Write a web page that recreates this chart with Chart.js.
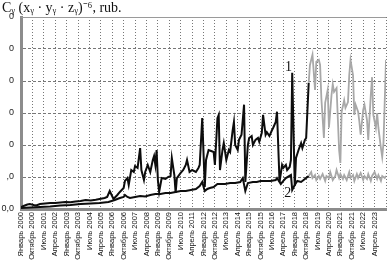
<!DOCTYPE html>
<html>
<head>
<meta charset="utf-8">
<script src="https://cdn.jsdelivr.net/npm/chart.js@4"></script>
<style>
  html, body { margin: 0; padding: 0; background: #fff; overflow: hidden; }
  #wrap { position: relative; width: 388px; height: 262px; }
</style>
</head>
<body>
<div id="wrap"><canvas id="chart" width="388" height="262"></canvas></div>
<script>
// x axis = months since January 2000, y axis in the plot's own units
const xTickLabels = ['Январь 2000', 'Октябрь 2000', 'Июль 2001', 'Апрель 2002', 'Январь 2003', 'Октябрь 2003',
  'Июль 2004', 'Апрель 2005', 'Январь 2006', 'Октябрь 2006', 'Июль 2007', 'Апрель 2008', 'Январь 2009',
  'Октябрь 2009', 'Июль 2010', 'Апрель 2011', 'Январь 2012', 'Октябрь 2012', 'Июль 2013', 'Апрель 2014',
  'Январь 2015', 'Октябрь 2015', 'Июль 2016', 'Апрель 2017', 'Январь 2018', 'Октябрь 2018', 'Июль 2019',
  'Апрель 2020', 'Январь 2021', 'Октябрь 2021', 'Июль 2022', 'Апрель 2023'];
const yTickLabels = ['0,0', ',0', '0', '0', '0', '0', '0'];
const titleText = 'Cᵧ (xᵧ · yᵧ · zᵧ)⁻⁶, rub.';

// series 1, actual
const s1Months = [0, 2, 5, 7, 10, 12, 15, 19, 23, 27, 31, 35, 39, 43, 47, 51, 55, 59, 62, 66,
  68, 70, 73, 76, 78, 81, 82, 84, 85, 87, 89, 90, 92, 94, 95, 97, 98, 100, 102, 104,
  105, 106, 107, 108, 109, 111, 114, 116, 118, 119, 121, 122, 123, 126, 128, 130, 131, 133, 135, 138,
  140, 141, 143, 145, 146, 148, 150, 152, 153, 155, 156, 157, 159, 160, 162, 164, 165, 167, 168, 169,
  171, 172, 174, 176, 177, 179, 180, 182, 183, 185, 187, 188, 190, 191, 193, 194, 196, 198, 199, 201,
  202, 204, 206, 207, 209, 210, 212, 213, 214, 216, 217, 219, 221, 222, 224, 225, 227];
const s1Values = [0.31, 0.47, 0.70, 0.78, 0.63, 0.55, 0.78, 0.86, 0.94, 0.94, 1.02, 1.09, 1.05, 1.17, 1.25, 1.41, 1.33, 1.45, 1.56, 1.72,
  1.88, 2.81, 1.56, 2.19, 2.66, 3.28, 4.38, 4.84, 3.75, 6.09, 5.78, 6.72, 6.41, 9.53, 6.09, 4.53, 5.78, 6.88, 5.78, 7.66,
  8.28, 6.88, 9.22, 4.53, 2.66, 4.84, 4.69, 5.0, 5.16, 7.97, 5.31, 2.5, 4.84, 5.63, 6.09, 6.88, 7.66, 5.78, 6.09, 5.78,
  6.41, 6.88, 14.2, 3.44, 7.66, 9.22, 9.06, 8.91, 6.88, 14.2, 14.7, 6.09, 9.22, 10.3, 7.66, 9.22, 8.91, 12.3, 13.6, 10.0,
  9.22, 10.8, 11.6, 16.3, 4.22, 10.0, 11.1, 11.4, 10.0, 10.8, 11.1, 10.5, 11.9, 14.7, 11.6, 12.0, 11.4, 12.3, 12.7, 13.6,
  15.2, 4.22, 6.88, 6.41, 6.88, 6.09, 6.56, 7.66, 21.3, 3.59, 7.97, 9.22, 10.3, 9.53, 10.8, 11.1, 19.7];

// series 2, actual
const s2Months = [0, 7, 15, 23, 31, 39, 47, 55, 62, 69, 74, 78, 81, 82, 84, 86, 90, 94, 98, 102,
  106, 110, 114, 118, 122, 126, 130, 134, 138, 141, 143, 145, 147, 149, 152, 155, 157, 161, 165, 169,
  173, 175, 177, 179, 183, 186, 189, 193, 197, 201, 202, 205, 207, 209, 213, 214, 216, 218, 221, 223,
  225, 227];
const s2Values = [0.16, 0.23, 0.31, 0.39, 0.55, 0.63, 0.78, 0.86, 0.94, 1.09, 1.41, 1.72, 1.88, 2.19, 1.88, 1.72, 1.88, 2.03, 1.95, 2.19,
  2.34, 2.34, 2.5, 2.5, 2.66, 2.81, 2.81, 2.97, 3.13, 3.59, 4.22, 2.81, 3.13, 3.28, 3.44, 3.91, 3.91, 3.91, 4.06, 4.06,
  4.22, 4.84, 2.81, 4.06, 4.22, 4.22, 4.38, 4.38, 4.38, 4.53, 4.84, 3.91, 4.38, 4.84, 5.31, 2.97, 3.75, 4.38, 4.22, 4.53,
  4.84, 5.16];

// series 1, forecast (grey)
const f1Months = [227, 228, 230, 232, 233, 235, 236, 237, 239, 240, 242, 243, 245, 246, 247, 249, 251, 252, 253, 255,
  256, 258, 259, 260, 262, 263, 264, 266, 267, 268, 270, 271, 273, 274, 276, 277, 278, 280, 281, 282,
  284, 285, 286, 288];
const f1Values = [19.7, 22.5, 24.1, 18.6, 23.0, 23.3, 22.5, 17.3, 11.1, 16.6, 18.6, 12.7, 17.8, 19.5, 18.3, 18.9, 9.22, 7.19, 15.2, 17.0,
  15.8, 16.7, 20.9, 23.3, 20.9, 14.7, 16.3, 15.2, 13.6, 11.6, 15.5, 16.3, 13.9, 10.8, 17.8, 20.6, 14.7, 12.7, 15.0, 12.7,
  9.53, 8.13, 10.3, 23.3];

// series 2, forecast (grey)
const f2Months = [227, 229, 230, 232, 233, 235, 236, 238, 240, 241, 243, 244, 246, 248, 249, 251, 252, 254, 255, 257,
  259, 260, 262, 263, 265, 266, 268, 270, 271, 273, 274, 276, 277, 279, 281, 282, 284, 285, 287, 288];
const f2Values = [5.16, 5.78, 4.84, 5.31, 4.53, 5.16, 4.69, 5.47, 4.38, 5.16, 4.84, 5.78, 4.53, 5.16, 6.09, 4.84, 5.47, 4.69, 5.31, 4.53,
  5.78, 4.84, 5.31, 4.38, 5.47, 4.84, 5.63, 4.53, 5.16, 4.69, 5.47, 4.38, 5.16, 5.78, 4.69, 5.31, 4.38, 5.16, 4.84, 5.16];

// curve numbers, in data units
const curveNames = [
  { text: '1', month: 211, value: 22.2 },
  { text: '2', month: 210.5, value: 2.5 }
];

const toPoints = (months, values) => months.map((m, i) => ({ x: m, y: values[i] }));

const lineStyle = (color, width) => ({
  borderColor: color,
  borderWidth: width,
  pointRadius: 0,
  tension: 0,
  fill: false
});

const extras = {
  id: 'extras',
  beforeDatasetsDraw(chart) {
    const { ctx, chartArea } = chart;
    ctx.save();
    ctx.strokeStyle = '#9a9a9a';
    ctx.lineWidth = 1;
    ctx.beginPath();
    ctx.moveTo(chartArea.left, chartArea.top + 0.5);
    ctx.lineTo(chartArea.right, chartArea.top + 0.5);
    ctx.stroke();
    ctx.restore();
  },
  afterDraw(chart) {
    const { ctx, scales } = chart;
    ctx.save();
    ctx.fillStyle = '#111';
    ctx.font = '14px "Liberation Serif", "Times New Roman", serif';
    ctx.textBaseline = 'alphabetic';
    ctx.textAlign = 'left';
    ctx.fillText(titleText, 2, 12);
    ctx.textAlign = 'center';
    ctx.textBaseline = 'middle';
    curveNames.forEach(n => {
      ctx.fillText(n.text, scales.x.getPixelForValue(n.month), scales.y.getPixelForValue(n.value));
    });
    ctx.restore();
  }
};

new Chart(document.getElementById('chart').getContext('2d'), {
  type: 'line',
  data: {
    datasets: [
      { data: toPoints(f2Months, f2Values), ...lineStyle('#a8a8a8', 1.8) },
      { data: toPoints(f1Months, f1Values), ...lineStyle('#a8a8a8', 1.8) },
      { data: toPoints(s2Months, s2Values), ...lineStyle('#0d0d0d', 2) },
      { data: toPoints(s1Months, s1Values), ...lineStyle('#0d0d0d', 2) }
    ]
  },
  options: {
    responsive: false,
    animation: false,
    layout: { padding: { top: 17, right: 2, left: 0, bottom: 0 } },
    scales: {
      x: {
        type: 'linear',
        min: 0,
        max: 288,
        afterFit: (scale) => {
          scale.height = 53;
          scale.paddingRight = 0;
          scale.paddingLeft = 0;
        },
        ticks: {
          stepSize: 9,
          autoSkip: false,
          minRotation: 90,
          maxRotation: 90,
          padding: 3,
          color: '#111',
          font: { family: '"Liberation Sans", Arial, sans-serif', size: 7.5 },
          callback: (v) => xTickLabels[v / 9] ?? ''
        },
        grid: { color: '#777', lineWidth: 1, drawTicks: false },
        border: { display: true, color: '#8c8c8c', width: 3, dash: [1, 2] }
      },
      y: {
        min: 0,
        max: 30,
        afterFit: (scale) => { scale.width = 21; },
        ticks: {
          stepSize: 5,
          padding: 7,
          color: '#222',
          font: { family: '"Liberation Sans", Arial, sans-serif', size: 9 },
          callback: (v) => yTickLabels[v / 5] ?? ''
        },
        grid: { color: '#777', lineWidth: 1, drawTicks: false },
        border: { display: true, color: '#8c8c8c', width: 3, dash: [3, 2] }
      }
    },
    plugins: {
      legend: { display: false },
      tooltip: { enabled: false }
    }
  },
  plugins: [extras]
});
</script>
</body>
</html>
